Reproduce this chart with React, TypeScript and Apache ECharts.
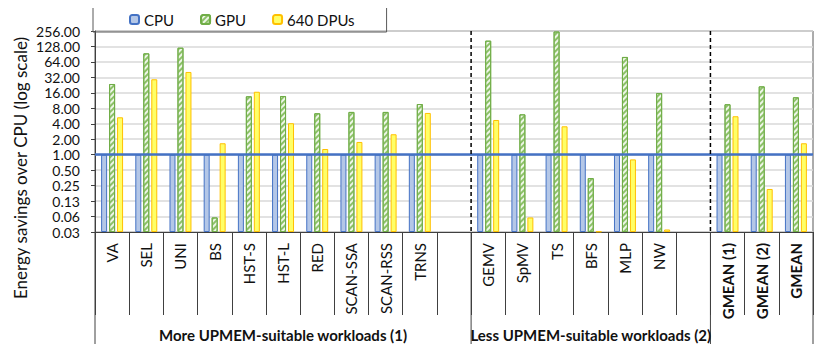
import React, { useEffect, useRef } from "react";
import * as echarts from "echarts";

const categories = ["VA", "SEL", "UNI", "BS", "HST-S", "HST-L", "RED", "SCAN-SSA", "SCAN-RSS", "TRNS", " ", "GEMV", "SpMV", "TS", "BFS", "MLP", "NW", "  ", "GMEAN (1)", "GMEAN (2)", "GMEAN"];
const boldCategories = ["GMEAN (1)", "GMEAN (2)", "GMEAN"];
const cpuValues = [1, 1, 1, 1, 1, 1, 1, 1, 1, 1, null, 1, 1, 1, 1, 1, 1, null, 1, 1, 1];
const gpuValues = [23.8, 94, 121, 0.06, 13.7, 13.9, 6.4, 6.8, 6.8, 9.7, null, 166, 6.1, 250, 0.35, 80, 15.9, null, 9.6, 21.4, 13.1];
const dpuValues = [5.35, 29.4, 40.8, 1.67, 16.8, 4.1, 1.29, 1.77, 2.5, 6.5, null, 4.74, 0.06, 3.57, 0.032, 0.81, 0.035, null, 5.6, 0.215, 1.67];
const seriesNames = ["CPU", "GPU", "640 DPUs"];
const groups = [
  { name: "More UPMEM-suitable workloads (1)", from: 0, to: 10 },
  { name: "Less UPMEM-suitable workloads (2)", from: 11, to: 17 },
  { name: "", from: 18, to: 20 },
];
const yMinPow = -5; // 0.03
const yMaxPow = 8; // 256
const yAxisTitle = "Energy savings over CPU (log scale)";

const FONT = "Lato";
const toAxis = (v: number | null) => (v == null ? null : Math.log2(v) - yMinPow);

export default function App() {
  const ref = useRef<HTMLDivElement>(null);
  useEffect(() => {
    if (!ref.current) return;
    const chart = echarts.init(ref.current, undefined, { renderer: "svg" });
    const barCommon = { type: "bar", barWidth: 6, barGap: "33%" };
    chart.setOption({
      animation: false,
      textStyle: { fontFamily: FONT },
      grid: { left: 95, right: 17, top: 31, bottom: 120, show: true, borderColor: "#595959", borderWidth: 1 },
      legend: {
        left: 93, top: 7,
        padding: [5, 32, 5, 36],
        borderColor: "#595959", borderWidth: 1,
        itemWidth: 9, itemHeight: 9, itemGap: 26,
        textStyle: { fontSize: 15, color: "#111", fontFamily: FONT },
        data: seriesNames,
      },
      xAxis: {
        type: "category",
        data: categories,
        axisLine: { lineStyle: { color: "#404040", width: 1 } },
        axisTick: { show: true, interval: 0, length: 83, lineStyle: { color: "#404040" } },
        axisLabel: {
          interval: 0, rotate: 90, margin: 11, fontSize: 15, color: "#111", fontFamily: FONT,
          formatter: (v: string) => (boldCategories.includes(v) ? `{b|${v}}` : v),
          rich: { b: { fontWeight: "bold", fontSize: 15, color: "#111", fontFamily: FONT } },
        },
      },
      yAxis: {
        type: "value",
        min: 0, max: yMaxPow - yMinPow, interval: 1,
        axisLine: { show: true, lineStyle: { color: "#404040" } },
        axisTick: { show: true, inside: false, length: 4, lineStyle: { color: "#404040" } },
        axisLabel: {
          fontSize: 14, lineHeight: 14, color: "#111", margin: 15, fontFamily: FONT,
          formatter: (v: number) => Math.pow(2, v + yMinPow).toFixed(2),
        },
        splitLine: { lineStyle: { color: "#D9D9D9", width: 1.5 } },
      },
      series: [
        {
          ...barCommon, name: seriesNames[0],
          data: cpuValues.map(toAxis),
          itemStyle: { color: "#B4C7E7", borderColor: "#4472C4", borderWidth: 1 },
          markLine: {
            silent: true, symbol: "none", label: { show: false },
            lineStyle: { color: "#4472C4", width: 2.5, type: "solid" },
            data: [{ yAxis: toAxis(1) }],
          },
        },
        {
          ...barCommon, name: seriesNames[1],
          data: gpuValues.map(toAxis),
          itemStyle: {
            color: "#EEF6E8", borderColor: "#70AD47", borderWidth: 1,
            decal: { symbol: "rect", color: "#8CC168", dashArrayX: [1, 0], dashArrayY: [2, 2], rotation: -Math.PI / 4, symbolSize: 1 },
          },
        },
        {
          ...barCommon, name: seriesNames[2],
          data: dpuValues.map(toAxis),
          itemStyle: { color: "#FFFF66", borderColor: "#FFC000", borderWidth: 1 },
        },
      ],
    });

    const cx = (i: number) => chart.convertToPixel({ xAxisIndex: 0 }, i) as number;
    const step = cx(1) - cx(0);
    const edge = (i: number) => cx(0) + (i - 0.5) * step;
    const yTop = chart.convertToPixel({ yAxisIndex: 0 }, yMaxPow - yMinPow) as number;
    const yBot = chart.convertToPixel({ yAxisIndex: 0 }, 0) as number;
    const elements: any[] = [];
    const dividers = [0, ...groups.map((g) => g.to + 1)];
    dividers.forEach((i) => {
      elements.push({ type: "line", shape: { x1: edge(i), y1: yBot, x2: edge(i), y2: yBot + 113 }, style: { stroke: "#404040", lineWidth: 1 }, silent: true });
    });
    groups.slice(0, -1).forEach((g) => {
      const x = edge(g.to + 1);
      elements.push({ type: "line", shape: { x1: x, y1: yTop, x2: x, y2: yBot }, style: { stroke: "#000", lineWidth: 1.5, lineDash: [4, 3] }, silent: true, z: 10 });
    });
    groups.forEach((g) => {
      if (!g.name) return;
      elements.push({
        type: "text", x: (edge(g.from) + edge(g.to + 1)) / 2, y: yBot + 103,
        style: { text: g.name, fontSize: 15, fontWeight: "bold", fill: "#111", align: "center", verticalAlign: "middle", fontFamily: FONT },
      });
    });
    elements.push({
      type: "text", x: 20, y: 168, rotation: Math.PI / 2,
      style: { text: yAxisTitle, fontSize: 17, fill: "#111", align: "center", verticalAlign: "middle", fontFamily: FONT },
    });
    chart.setOption({ graphic: elements });
    return () => chart.dispose();
  }, []);
  return <div ref={ref} style={{ width: 830, height: 352, margin: -8 }} />;
}
